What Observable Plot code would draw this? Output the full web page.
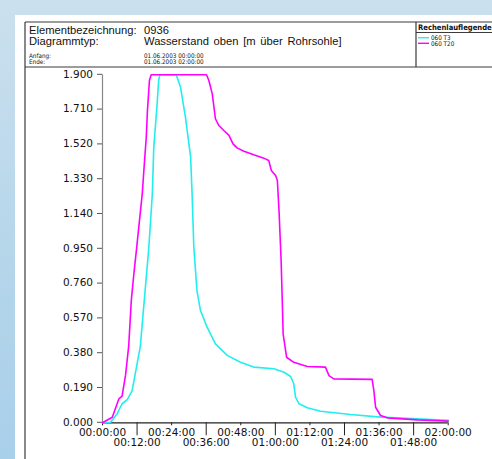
<!DOCTYPE html>
<html>
<head>
<meta charset="utf-8">
<script src="https://cdn.jsdelivr.net/npm/d3@7/dist/d3.min.js"></script>
<script src="https://cdn.jsdelivr.net/npm/@observablehq/plot@0.6/dist/plot.umd.min.js"></script>
<style>
  html, body { margin: 0; padding: 0; }
  body { width: 492px; height: 459px; overflow: hidden; position: relative;
         background: linear-gradient(180deg, #cbe0ee 0%, #b4d5ea 60%, #a9d0ea 100%); }
  #panel { position: absolute; left: 15px; top: 15px; right: 0; bottom: 0; background: #fff; }
  #chart { position: absolute; left: 0; top: 0; width: 492px; height: 459px; }
  #hdr { position: absolute; left: 0; top: 0; pointer-events: none; }
  #err { position: absolute; left: 30px; top: 200px; color: red; font: 12px sans-serif; }
</style>
</head>
<body>
<div id="panel"></div>
<div id="chart"></div>
<svg id="hdr" width="492" height="459" xmlns="http://www.w3.org/2000/svg">
  <g stroke="#3a3a3a" stroke-width="1.2" fill="none">
    <line x1="25" y1="22" x2="492" y2="22"/>
    <line x1="25" y1="22" x2="25" y2="459"/>
    <line x1="25" y1="67" x2="492" y2="67"/>
    <line x1="416" y1="22" x2="416" y2="67"/>
    <line x1="416" y1="32.5" x2="492" y2="32.5"/>
  </g>
  <g font-family="Liberation Sans, Arial, sans-serif" font-size="11.2px" fill="#111">
    <text x="29" y="34.3">Elementbezeichnung:</text>
    <text x="29" y="45">Diagrammtyp:</text>
    <text x="144" y="34.3">0936</text>
    <text x="144" y="45" word-spacing="1.6">Wasserstand oben [m über Rohrsohle]</text>
  </g>
  <g font-family="Liberation Sans Narrow, DejaVu Sans Condensed, Liberation Sans, sans-serif" font-size="6.3px" fill="#111">
    <text x="29" y="58">Anfang:</text>
    <text x="29" y="64.3">Ende:</text>
    <text x="144" y="58">01.06.2003 00:00:00</text>
    <text x="144" y="64.3">01.06.2003 02:00:00</text>
    <text x="418" y="30" font-weight="bold" font-size="7.6px">Rechenlauflegende</text>
    <text x="431" y="40">060 T3</text>
    <text x="431" y="45.8">060 T20</text>
  </g>
  <line x1="418" y1="37.7" x2="429" y2="37.7" stroke="#22eeee" stroke-width="1.4"/>
  <line x1="418" y1="43.3" x2="429" y2="43.3" stroke="#ff00ff" stroke-width="1.4"/>
</svg>
<div id="err"></div>
<script>
// Series T3 (cyan): minutes since 00:00:00, water level [m]
const t3Min = [0, 2.8, 5.1, 6.8, 8.6, 10.3, 12, 13.1, 14, 14.8, 15.4, 16, 16.7, 17.3, 17.8, 18.8, 19.5, 19.9,
  25.6, 27.1, 28.8, 30.6, 31.1, 31.7, 32.2, 32.8, 34, 36.3, 39.2, 43.3, 47.9, 52.5, 59.5, 63, 65.3, 66.4, 67,
  68.2, 71.1, 75.7, 86.1, 96.5, 109.3, 120];
const t3Val = [0, 0.003, 0.05, 0.104, 0.126, 0.176, 0.322, 0.413, 0.577, 0.723, 0.832, 0.941, 1.105, 1.25, 1.505, 1.705, 1.87, 1.9,
  1.9, 1.832, 1.668, 1.45, 1.25, 0.959, 0.85, 0.72, 0.614, 0.522, 0.431, 0.368, 0.331, 0.304, 0.295, 0.276, 0.253, 0.213, 0.14,
  0.104, 0.082, 0.063, 0.045, 0.031, 0.022, 0.013];

// Series T20 (magenta)
const t20Min = [0, 3.4, 5.7, 6.8, 8, 9.1, 10, 10.9, 11.8, 12.6, 13.8, 14.6, 15.2, 15.6, 16.3, 16.9,
  36.1, 36.9, 38.1, 39.2, 40.4, 42.1, 43.9, 45.3, 46.7, 49.1, 52.5, 56, 57.7, 58.6, 60.1, 60.7, 61.3, 62,
  62.4, 62.7, 63.9, 66.4, 71.1, 77.4, 78.6, 80.3, 93.6, 94.2, 94.8, 96.5, 98.9, 109.3, 120];
const t20Val = [0, 0.03, 0.131, 0.145, 0.26, 0.42, 0.668, 0.815, 0.947, 1.068, 1.25, 1.432, 1.56, 1.705, 1.87, 1.9,
  1.9, 1.87, 1.796, 1.66, 1.623, 1.596, 1.569, 1.523, 1.501, 1.483, 1.463, 1.445, 1.432, 1.378, 1.35, 1.323, 1.15, 0.886,
  0.668, 0.486, 0.358, 0.33, 0.307, 0.304, 0.258, 0.24, 0.237, 0.176, 0.085, 0.04, 0.027, 0.016, 0.009];

// Axis ticks
const yTicks = [0, 0.19, 0.38, 0.57, 0.76, 0.95, 1.14, 1.33, 1.52, 1.71, 1.9];
const xTicksUpper = [0, 24, 48, 72, 96, 120];
const xLabelsUpper = ["00:00:00", "00:24:00", "00:48:00", "01:12:00", "01:36:00", "02:00:00"];
const xTicksLower = [12, 36, 60, 84, 108];
const xLabelsLower = ["00:12:00", "00:36:00", "01:00:00", "01:24:00", "01:48:00"];

try {
  const t3 = t3Min.map((m, i) => ({m, v: t3Val[i]}));
  const t20 = t20Min.map((m, i) => ({m, v: t20Val[i]}));

  const chart = Plot.plot({
    width: 492,
    height: 459,
    marginLeft: 102,
    marginRight: 44.3,
    marginTop: 74.3,
    marginBottom: 36.7,
    style: {background: "transparent", fontFamily: "DejaVu Sans, sans-serif", fontSize: "10.5px", color: "#111", overflow: "visible"},
    x: {domain: [0, 120], label: null},
    y: {domain: [0, 1.9], label: null},
    marks: [
      Plot.axisY(yTicks, {tickSize: 5, tickPadding: 4.5, tickFormat: d3.format(".3f"), stroke: "#555", label: null, dy: -0.5}),
      Plot.axisX(xTicksUpper, {tickSize: 3, tickPadding: 3, tickFormat: d => xLabelsUpper[xTicksUpper.indexOf(d)], stroke: "#222", label: null}),
      Plot.axisX(xTicksLower, {tickSize: 13, tickPadding: 3, tickFormat: d => xLabelsLower[xTicksLower.indexOf(d)], stroke: "#222", label: null}),
      Plot.ruleX([0], {y1: 0, y2: 1.9, stroke: "#888", strokeWidth: 1.2}),
      Plot.ruleY([0], {x1: 0, x2: 120, stroke: "#222", strokeWidth: 1.2}),
      Plot.line(t3, {x: "m", y: "v", stroke: "#22eeee", strokeWidth: 1.6}),
      Plot.line(t20, {x: "m", y: "v", stroke: "#ff00ff", strokeWidth: 1.6})
    ]
  });
  chart.style.position = "absolute";
  chart.style.left = "0px";
  chart.style.top = "0px";
  document.getElementById("chart").appendChild(chart);
} catch (e) {
  document.getElementById("err").textContent = String(e);
}
</script>
</body>
</html>
